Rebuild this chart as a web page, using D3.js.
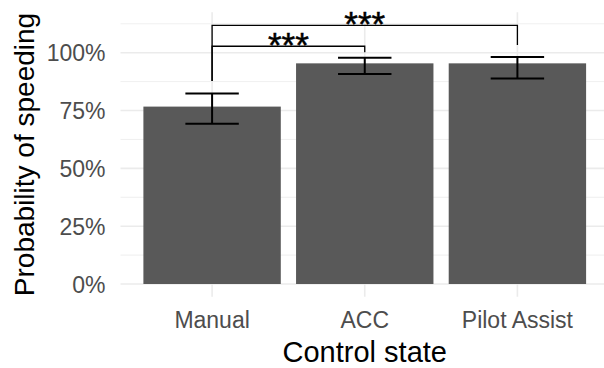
<!DOCTYPE html>
<html>
<head>
<meta charset="utf-8">
<script src="https://cdn.jsdelivr.net/npm/d3@7"></script>
<style>
  html, body { margin: 0; padding: 0; background: #fff; }
  svg { display: block; font-family: "Liberation Sans", Arial, sans-serif; }
</style>
</head>
<body>
<div id="chart"></div>
<script>
// ---- data ----
const categories = ["Manual", "ACC", "Pilot Assist"];
const probability = [0.767, 0.954, 0.954];
const ciLower = [0.693, 0.908, 0.888];
const ciUpper = [0.824, 0.978, 0.981];
const yTicks = [0, 0.25, 0.5, 0.75, 1.0];
const yMinorTicks = [0.125, 0.375, 0.625, 0.875, 1.125];
const sigPairs = [["Manual", "ACC"], ["Manual", "Pilot Assist"]];
const sigBracketY = [1.028, 1.118];
const sigLegEnds = [[0.878, 1.002], [0.878, 1.033]];
const sigLabels = ["***", "***"];
const xTitle = "Control state";
const yTitle = "Probability of speeding";

// ---- layout ----
const W = 604, H = 368;
const panel = { left: 120.5, right: 609, top: 12.3, bottom: 296.7 };

const svg = d3.select("#chart").append("svg")
  .attr("width", W).attr("height", H);

const x = d3.scaleBand()
  .domain(categories)
  .range([panel.left, panel.right])
  .paddingInner(0.1)
  .paddingOuter(0.15);

const y = d3.scaleLinear()
  .domain([-0.0549, 1.1747])
  .range([panel.bottom, panel.top]);

const step = x.step();
const cx = c => x(c) + x.bandwidth() / 2;

// grid
const grid = svg.append("g");
grid.selectAll("line.minor").data(yMinorTicks).join("line")
  .attr("x1", panel.left).attr("x2", panel.right)
  .attr("y1", d => y(d)).attr("y2", d => y(d))
  .attr("stroke", "#EBEBEB").attr("stroke-width", 0.8);
grid.selectAll("line.major").data(yTicks).join("line")
  .attr("x1", panel.left).attr("x2", panel.right)
  .attr("y1", d => y(d)).attr("y2", d => y(d))
  .attr("stroke", "#EBEBEB").attr("stroke-width", 1.6);
grid.selectAll("line.vmajor").data(categories).join("line")
  .attr("x1", d => cx(d)).attr("x2", d => cx(d))
  .attr("y1", panel.top).attr("y2", panel.bottom)
  .attr("stroke", "#EBEBEB").attr("stroke-width", 1.6);

// bars
svg.append("g").selectAll("rect").data(categories).join("rect")
  .attr("x", d => x(d))
  .attr("width", x.bandwidth())
  .attr("y", (d, i) => y(probability[i]))
  .attr("height", (d, i) => y(0) - y(probability[i]))
  .attr("fill", "#595959");

// error bars
const capW = step * 0.35;
const eb = svg.append("g").attr("stroke", "#000").attr("stroke-width", 2).attr("fill", "none");
categories.forEach((c, i) => {
  const xc = cx(c);
  eb.append("line").attr("x1", xc).attr("x2", xc).attr("y1", y(ciLower[i])).attr("y2", y(ciUpper[i]));
  eb.append("line").attr("x1", xc - capW / 2).attr("x2", xc + capW / 2).attr("y1", y(ciUpper[i])).attr("y2", y(ciUpper[i]));
  eb.append("line").attr("x1", xc - capW / 2).attr("x2", xc + capW / 2).attr("y1", y(ciLower[i])).attr("y2", y(ciLower[i]));
});

// significance brackets
const sg = svg.append("g");
sigPairs.forEach((p, i) => {
  const x1 = cx(p[0]), x2 = cx(p[1]);
  const yb = y(sigBracketY[i]);
  sg.append("path")
    .attr("d", `M${x1},${y(sigLegEnds[i][0])}V${yb}H${x2}V${y(sigLegEnds[i][1])}`)
    .attr("fill", "none").attr("stroke", "#000").attr("stroke-width", 1.3);
  sg.append("text")
    .attr("x", (x1 + x2) / 2)
    .attr("y", yb + 11)
    .attr("text-anchor", "middle")
    .attr("font-size", 35)
    .attr("fill", "#000")
    .attr("stroke", "#000")
    .attr("stroke-width", 0.5)
    .text(sigLabels[i]);
});

// y axis labels
const yAxis = d3.axisLeft(y).tickValues(yTicks).tickFormat(d3.format(".0%")).tickSize(0).tickPadding(0);
const yg = svg.append("g").attr("transform", `translate(${panel.left - 15},0)`).call(yAxis);
yg.select(".domain").remove();
yg.selectAll("text").attr("font-size", 23).attr("fill", "#4D4D4D")
  .attr("font-family", "Liberation Sans, Arial, sans-serif").attr("dy", "0.36em");

// x axis labels
const xAxis = d3.axisBottom(x).tickSize(0).tickPadding(0);
const xg = svg.append("g").attr("transform", `translate(0,${panel.bottom})`).call(xAxis);
xg.select(".domain").remove();
xg.selectAll("text").attr("font-size", 23).attr("fill", "#4D4D4D")
  .attr("font-family", "Liberation Sans, Arial, sans-serif")
  .attr("y", 31).attr("dy", null);

// axis titles
svg.append("text")
  .attr("x", (panel.left + 609) / 2 - 0)
  .attr("y", 362)
  .attr("text-anchor", "middle")
  .attr("font-size", 29)
  .attr("fill", "#000")
  .text(xTitle);

svg.append("text")
  .attr("transform", `translate(34,${(panel.top + panel.bottom) / 2}) rotate(-90)`)
  .attr("text-anchor", "middle")
  .attr("font-size", 28)
  .attr("fill", "#000")
  .text(yTitle);
</script>
</body>
</html>
